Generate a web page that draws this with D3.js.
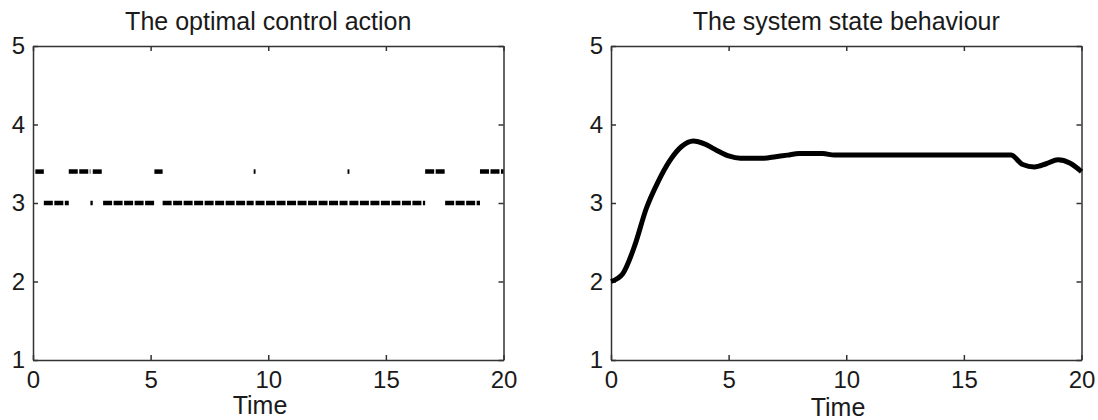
<!DOCTYPE html>
<html>
<head>
  <title>Optimal control and system state</title>
  <script src="https://d3js.org/d3.v7.min.js"></script>
  <style>
    body { margin: 0; background: #fff; }
    svg { display: block; }
    .title { font-family: "Liberation Sans", Arial, sans-serif; font-size: 25px; fill: #1a1a1a; }
    .axis text { font-family: "Liberation Sans", Arial, sans-serif; font-size: 24px; fill: #1a1a1a; }
    .axis path, .axis line { stroke: #333; stroke-width: 1.5px; }
    .xlabel { font-family: "Liberation Sans", Arial, sans-serif; font-size: 25px; fill: #1a1a1a; }
  </style>
</head>
<body>
  <svg width="1098" height="420"></svg>

  <script>
    // tick labels
    const xTicks = [0, 5, 10, 15, 20];
    const yTicks = [1, 2, 3, 4, 5];

    // optimal control action: piecewise constant, [start, end) with level
    const controlStart = [0.1, 0.46, 1.52, 2.44, 2.54, 2.98, 5.16, 5.51, 9.38, 9.46, 13.37, 13.45, 16.67, 17.52, 19.0];
    const controlEnd   = [0.46, 1.52, 2.44, 2.54, 2.98, 5.16, 5.51, 9.38, 9.46, 13.37, 13.45, 16.67, 17.52, 19.0, 20];
    const controlValue = [3.4, 3.0, 3.4, 3.0, 3.4, 3.0, 3.4, 3.0, 3.4, 3.0, 3.4, 3.0, 3.4, 3.0, 3.4];

    // system state behaviour
    const stateTime  = [0, 0.5, 1, 1.5, 2, 2.5, 3, 3.5, 4, 4.5, 5, 5.5, 6, 6.5, 7, 7.5, 8, 8.5, 9, 9.5, 10,
                        11, 12, 13, 14, 15, 16, 17, 17.5, 18, 18.5, 19, 19.5, 20];
    const stateValue = [2.0, 2.1, 2.45, 2.93, 3.27, 3.54, 3.72, 3.79, 3.75, 3.67, 3.6, 3.57, 3.57, 3.57, 3.59, 3.61, 3.63, 3.63, 3.63, 3.61, 3.61,
                        3.61, 3.61, 3.61, 3.61, 3.61, 3.61, 3.61, 3.49, 3.46, 3.5, 3.55, 3.51, 3.4];

    const svg = d3.select('svg');
    const plotTop = 46, plotBottom = 360;

    function drawFrame(x0, x1, title) {
      const x = d3.scaleLinear().domain([0, 20]).range([x0, x1]);
      const y = d3.scaleLinear().domain([1, 5]).range([plotBottom, plotTop]);

      svg.append('g').attr('class', 'axis')
        .attr('transform', `translate(0,${plotBottom})`)
        .call(d3.axisBottom(x).tickValues(xTicks).tickFormat(d3.format('d'))
          .tickSizeInner(-5).tickSizeOuter(0).tickPadding(11));
      svg.append('g').attr('class', 'axis')
        .attr('transform', `translate(0,${plotTop})`)
        .call(d3.axisTop(x).tickValues(xTicks).tickSizeInner(-5).tickSizeOuter(0).tickFormat(''));
      svg.append('g').attr('class', 'axis')
        .attr('transform', `translate(${x0},0)`)
        .call(d3.axisLeft(y).tickValues(yTicks).tickFormat(d3.format('d'))
          .tickSizeInner(-5).tickSizeOuter(0).tickPadding(8));
      svg.append('g').attr('class', 'axis')
        .attr('transform', `translate(${x1},0)`)
        .call(d3.axisRight(y).tickValues(yTicks).tickSizeInner(-5).tickSizeOuter(0).tickFormat(''));

      svg.selectAll('.axis .domain').attr('stroke', '#333');

      svg.append('text')
        .attr('class', 'title')
        .attr('x', (x0 + x1) / 2)
        .attr('y', 30)
        .attr('text-anchor', 'middle')
        .text(title);

      return { x, y };
    }

    // left panel
    const left = drawFrame(33, 503.5, 'The optimal control action');
    svg.append('text').attr('class', 'xlabel')
      .attr('x', 260).attr('y', 414).attr('text-anchor', 'middle').text('Time');

    const segs = controlStart.map((s, i) => ({ s, e: controlEnd[i], v: controlValue[i] }));
    svg.append('g')
      .selectAll('line')
      .data(segs)
      .enter().append('line')
      .attr('x1', d => left.x(d.s))
      .attr('x2', d => left.x(d.e))
      .attr('y1', d => left.y(d.v))
      .attr('y2', d => left.y(d.v))
      .attr('stroke', '#000')
      .attr('stroke-width', 4.5)
      .attr('stroke-dasharray', '9,1.5');

    // right panel
    const right = drawFrame(611, 1081.5, 'The system state behaviour');
    svg.append('text').attr('class', 'xlabel')
      .attr('x', 838).attr('y', 416).attr('text-anchor', 'middle').text('Time');

    const line = d3.line()
      .x((d, i) => right.x(stateTime[i]))
      .y(d => right.y(d))
      .curve(d3.curveMonotoneX);

    svg.append('path')
      .datum(stateValue)
      .attr('d', line)
      .attr('fill', 'none')
      .attr('stroke', '#000')
      .attr('stroke-width', 5)
      .attr('stroke-linejoin', 'round');
  </script>
</body>
</html>
